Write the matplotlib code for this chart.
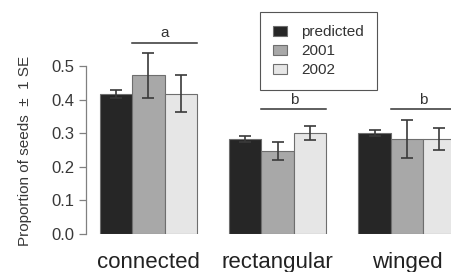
import numpy as np
import matplotlib
matplotlib.use("Agg")
import matplotlib.pyplot as plt

# ---- data ----
categories = ["connected", "rectangular", "winged"]
series = ["predicted", "2001", "2002"]
predicted = [0.417, 0.283, 0.301]
predicted_se = [0.012, 0.010, 0.009]
y2001 = [0.472, 0.247, 0.283]
y2001_se = [0.066, 0.026, 0.057]
y2002 = [0.418, 0.301, 0.283]
y2002_se = [0.054, 0.021, 0.032]
sig_labels = ["a", "b", "b"]
sig_heights = [0.569, 0.371, 0.371]
yticks = [0.0, 0.1, 0.2, 0.3, 0.4, 0.5]
ytick_labels = ["0.0", "0.1", "0.2", "0.3", "0.4", "0.5"]

plt.rcParams["font.family"] = ["Liberation Sans", "DejaVu Sans"]

W, H = 452, 272
fig = plt.figure(figsize=(W / 100, H / 100), dpi=100)
ax = fig.add_axes([86 / W, 38 / H, (W - 86) / W, 234 / H])

values = [predicted, y2001, y2002]
errors = [predicted_se, y2001_se, y2002_se]
colors = ["#262626", "#a8a8a8", "#e6e6e6"]

ngroups = len(categories)
group_left = 1 + 4 * np.arange(ngroups)  # R barplot beside=TRUE, space=c(0,1)
for s, (vals, errs, col, name) in enumerate(zip(values, errors, colors, series)):
    x = group_left + s + 0.5
    ax.bar(x, vals, width=1.0, color=col, edgecolor="#6e6e6e", linewidth=0.8,
           label=name, zorder=2)
    ax.errorbar(x, vals, yerr=errs, fmt="none", ecolor="#3a3a3a",
                elinewidth=1.2, capsize=4.3, capthick=1.2, zorder=3)

# significance bars
for g, (lab, h) in enumerate(zip(sig_labels, sig_heights)):
    x0 = group_left[g] + 1
    x1 = group_left[g] + 3
    ax.plot([x0, x1], [h, h], color="#333333", lw=1.1, clip_on=True)
    ax.text((x0 + x1) / 2, h + 0.016, lab, ha="center", va="baseline",
            fontsize=11, color="#333333", clip_on=False)

px = 32.3
ax.set_xlim(1 - 14 / px, 1 + (W - 100) / px)
ax.set_ylim(0, 234 / 336)

for sp in ["top", "right", "bottom"]:
    ax.spines[sp].set_visible(False)
ax.spines["left"].set_bounds(0, 0.5)
ax.spines["left"].set_color("#808080")
ax.spines["left"].set_linewidth(0.9)

ax.set_yticks(yticks)
ax.set_yticklabels(ytick_labels)
ax.tick_params(axis="y", direction="out", length=5, width=0.9, color="#808080",
               pad=3.5, labelsize=12, labelcolor="#383838")
ax.set_xticks(group_left + 1.5)
ax.set_xticklabels(categories)
ax.tick_params(axis="x", length=0, pad=13, labelsize=16, labelcolor="#222222")

ax.set_ylabel("Proportion of seeds  \u00b1  1 SE", fontsize=11, color="#383838",
              va="center")
ax.yaxis.set_label_coords((25 - 86) / (W - 86), 83 / 234)

leg = ax.legend(loc="upper left", bbox_to_anchor=(260 / W, 1 - 12.3 / H),
                bbox_transform=fig.transFigure, fontsize=11, frameon=True,
                fancybox=False, framealpha=1, edgecolor="#555555",
                handlelength=0.92, handleheight=0.65, handletextpad=0.94,
                borderpad=0.85, labelspacing=0.32, borderaxespad=0)
leg.get_frame().set_linewidth(0.8)
for t in leg.get_texts():
    t.set_color("#333333")

fig.savefig("out.png", dpi=100)
